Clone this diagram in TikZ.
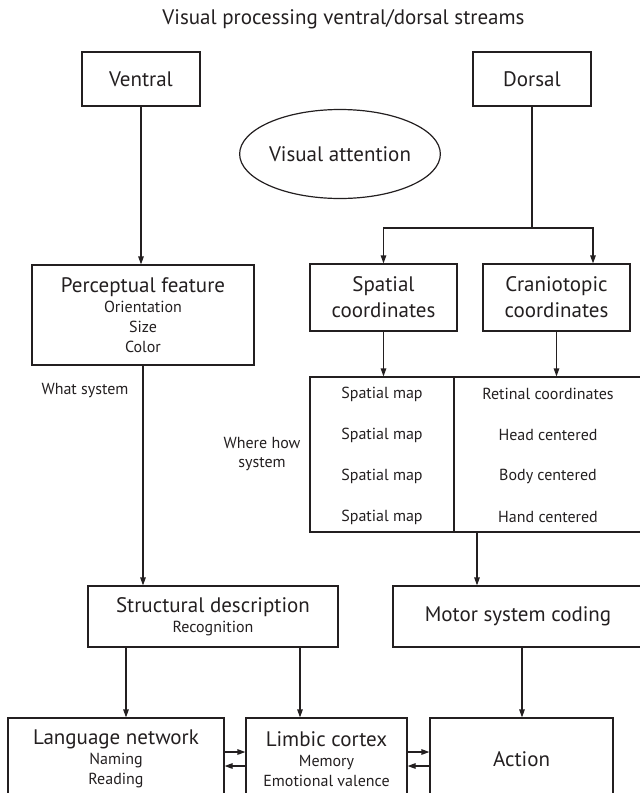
\documentclass[tikz,border=0pt]{standalone}
\usepackage{fontspec}
\setmainfont{PT Sans}
\usepackage{tikz}
\usetikzlibrary{shapes.geometric,arrows.meta,positioning}
\definecolor{vsink}{RGB}{35, 31, 32}

\begin{document}
\begin{tikzpicture}[
  x=1pt, y=-1pt,
  every node/.style={font=\fontsize{21}{20}\selectfont, text=vsink},
  box/.style={draw=vsink, line width=1.2pt, align=center, inner sep=2pt},
  oval/.style={draw=vsink, line width=1.2pt, ellipse, inner sep=0pt},
  small/.style={font=\fontsize{16}{19.5}\selectfont},
  link/.style={vsink, line width=1.2pt},
  arr/.style={-{Triangle[length=8pt, width=5.5pt]}, vsink, line width=1.2pt},
]
\useasboundingbox (0,0) rectangle (640,793);
\clip (0,0) rectangle (640,793);

% Title
\node (title) at (343.5, 19) {Visual processing ventral/dorsal streams};

% Streams
\node[box, minimum width=118pt, minimum height=54pt] (ventral) at (141, 79)  {Ventral};
\node[box, minimum width=118pt, minimum height=54pt] (dorsal)  at (532, 79)  {Dorsal};
\node[oval, minimum width=197pt, minimum height=89pt] (attn)   at (340, 154) {Visual attention};

% Second row
\node[box, minimum width=222pt, minimum height=100pt] (percept) at (143, 315)
  {Perceptual feature\\{\fontsize{16}{19.5}\selectfont Orientation}\\{\fontsize{16}{19.5}\selectfont Size}\\{\fontsize{16}{19.5}\selectfont Color}};
\node[box, minimum width=147pt, minimum height=67pt] (spatial) at (383.5, 297.5) {Spatial\\[6pt]coordinates};
\node[box, minimum width=147pt, minimum height=67pt] (cranio)  at (556.5, 297.5) {Craniotopic\\[6pt]coordinates};

% Side labels
\node[small] (what)  at (85, 391)  {What system};
\node[small, align=center] (where) at (262, 454) {Where how\\system};

% Map table
\node[box, minimum width=332pt, minimum height=155pt] (maps) at (476, 454.5) {};
\coordinate (split) at (454, 454.5);
\draw[link] (split |- maps.north) -- (split |- maps.south);
\node[small] (map1) at (382, 394) {Spatial map};
\node[small] (map2) at (382, 435) {Spatial map};
\node[small] (map3) at (382, 476) {Spatial map};
\node[small] (map4) at (382, 517) {Spatial map};
\node[small] (retinal) at (548, 394) {Retinal coordinates};
\node[small] (head)    at (548, 435) {Head centered};
\node[small] (body)    at (548, 476) {Body centered};
\node[small] (hand)    at (548, 517) {Hand centered};

% Third row
\node[box, minimum width=250pt, minimum height=61pt] (struct) at (213, 616.5)
  {Structural description\\{\fontsize{16}{19.5}\selectfont Recognition}};
\node[box, minimum width=250pt, minimum height=61pt] (motor)  at (518, 616.5) {Motor system coding};

% Bottom row
\node[box, minimum width=216pt, minimum height=82pt] (lang)   at (116, 759)
  {Language network\\{\fontsize{16}{19.5}\selectfont Naming}\\{\fontsize{16}{19.5}\selectfont Reading}};
\node[box, minimum width=161pt, minimum height=82pt] (limbic) at (326.5, 759)
  {Limbic cortex\\{\fontsize{16}{19.5}\selectfont Memory}\\{\fontsize{16}{19.5}\selectfont Emotional valence}};
\node[box, minimum width=183pt, minimum height=82pt] (action) at (521.5, 759) {Action};

% Arrows
\coordinate (fork) at (532, 228);
\draw[arr] (ventral) -- (ventral |- percept.north);
\draw[link] (dorsal) -- (fork);
\draw[arr] (fork) -| (spatial.north);
\draw[arr] (fork) -| ([xshift=36.5pt]cranio.north);
\draw[arr] (spatial) -- (spatial |- maps.north);
\draw[arr] (cranio) -- (cranio |- maps.north);
\draw[arr] (percept) -- (percept |- struct.north);
\draw[arr] ([xshift=-41pt]motor.north |- maps.south) -- ([xshift=-41pt]motor.north);
\draw[arr] ([xshift=4pt]motor.south) -- ([xshift=4pt]motor.south |- action.north);
\draw[arr] ([xshift=-87pt]struct.south) -- ([xshift=-87pt]struct.south |- lang.north);
\draw[arr] ([xshift=87pt]struct.south) -- ([xshift=87pt]struct.south |- limbic.north);
\draw[arr] ([yshift=7pt]lang.east) -- ([yshift=7pt]limbic.west);
\draw[arr] ([yshift=-7pt]limbic.west) -- ([yshift=-7pt]lang.east);
\draw[arr] ([yshift=7pt]limbic.east) -- ([yshift=7pt]action.west);
\draw[arr] ([yshift=-7pt]action.west) -- ([yshift=-7pt]limbic.east);

\end{tikzpicture}
\end{document}
